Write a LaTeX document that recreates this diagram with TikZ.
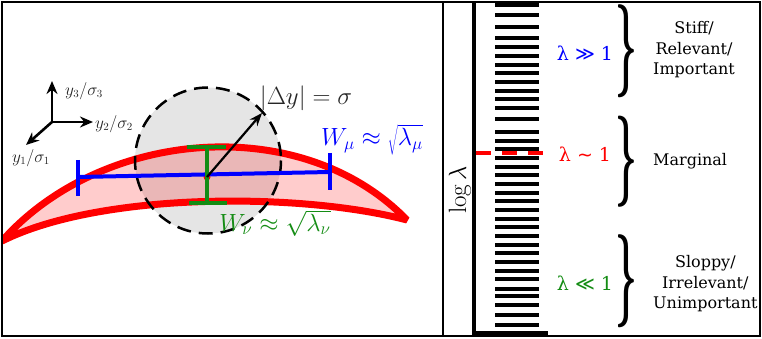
\documentclass[tikz,border=0pt]{standalone}
\usepackage{fontspec}
\newfontfamily\dvserif{DejaVu Serif}
\newfontfamily\dvsans{DejaVu Sans}
\usetikzlibrary{arrows.meta}
\definecolor{mygreen}{RGB}{20,140,20}
\definecolor{myblue}{RGB}{0,0,255}
\definecolor{myred}{RGB}{255,0,0}
\begin{document}
\begin{tikzpicture}[x=1pt,y=-1pt,
  frame/.style={line width=2.5pt},
  barline/.style={line width=4pt},
  band/.style={draw=myred,line width=7pt,fill=myred,fill opacity=0.2,line join=bevel},
  axisarrow/.style={line width=2.6pt,-{Stealth[length=13pt,width=11pt]}},
  mathlbl/.style={font=\fontsize{23.5}{28}\selectfont,inner sep=0pt},
  smalllbl/.style={font=\fontsize{16}{19}\selectfont,inner sep=0pt,text=black!85},
  lamlbl/.style={font=\dvserif\fontsize{19}{22}\selectfont,inner sep=0pt},
  bracetxt/.style={font=\dvserif\fontsize{16}{20.5}\selectfont,align=center,inner sep=0pt,anchor=west},
  bracenode/.style={font=\bfseries\fontsize{38}{40}\selectfont,inner sep=0pt},
  bluebar/.style={draw=myblue,line width=4pt},
  greenbar/.style={draw=mygreen,line width=4pt},
]
\useasboundingbox (0,0) rectangle (762,339);

% ---------- left panel ----------
\coordinate (cc) at (208,160.5);
\fill[black!10] (cc) circle (73);

\begin{scope}
\clip (2,2) rectangle (443,336);
\coordinate (bl) at (2,241);
\coordinate (br) at (407,220);
\draw[band] (bl) .. controls (100,130) and (300,110) .. (br)
            .. controls (300,192) and (100,192) .. (bl) -- cycle;
\end{scope}

\draw[line width=2.5pt,dash pattern=on 14pt off 8pt] (cc) circle (73);

% centre point
\coordinate (c0) at (207,177);
\fill[myred] (c0) circle (3.5);

% blue width bar
\coordinate (b1) at (78,177);
\coordinate (b2) at (330,172);
\coordinate (b1t) at (78,160);
\coordinate (b1b) at (78,196);
\coordinate (b2t) at (330,153);
\coordinate (b2b) at (330,190);
\draw[bluebar] (b1) -- (b2);
\draw[bluebar] (b1t) -- (b1b);
\draw[bluebar] (b2t) -- (b2b);

% green width bar
\coordinate (g1) at (207,147);
\coordinate (g2) at (207,203);
\coordinate (g1l) at (187,147);
\coordinate (g1r) at (226,147);
\coordinate (g2l) at (189,203);
\coordinate (g2r) at (227,203);
\draw[greenbar] (g1) -- (g2);
\draw[greenbar] (g1l) -- (g1r);
\draw[greenbar] (g2l) -- (g2r);

% radius arrow
\coordinate (rt) at (262,113);
\draw[line width=2.2pt,-{Stealth[length=13pt,width=10pt]}] (c0) -- (rt);

% axes icon
\coordinate (o) at (52,122);
\coordinate (ax3) at (52,81);
\coordinate (ax2) at (93,122);
\coordinate (ax1) at (26,145);
\draw[axisarrow] (o) -- (ax3);
\draw[axisarrow] (o) -- (ax2);
\draw[axisarrow] (o) -- (ax1);
\node[smalllbl] (l3) at (84,91) {$y_3/\sigma_3$};
\node[smalllbl] (l2) at (114,124) {$y_2/\sigma_2$};
\node[smalllbl] (l1) at (31,158) {$y_1/\sigma_1$};

% labels
\node[mathlbl,text=black!85] (dy) at (306,98) {$|\Delta y| = \sigma$};
\node[mathlbl,text=myblue] (wmu) at (372,140) {$W_\mu \approx \sqrt{\lambda_\mu}$};
\node[mathlbl,text=mygreen] (wnu) at (275,223) {$W_\nu \approx \sqrt{\lambda_\nu}$};

% ---------- right panel ----------
\coordinate (d1) at (443,2);
\coordinate (d2) at (443,336);
\draw[frame] (d1) -- (d2);
\coordinate (lt) at (474,2);
\coordinate (lc) at (474,333);
\coordinate (lr) at (548,333);
\draw[line width=4pt] (lt) -- (lc) -- (lr);

\foreach \y in {5,14.7,27,38,47,55.7,64.7,73,81.7,90.7,99,108,119.5,132,140.7,149.3,158,166.7,175.3,184,192.7,201.3,210,218.7,227.3,236,244.7,253.3,262,270.7,279.3,288.7,296,304.7,315,325.3}
  \draw[barline] (495,\y) -- (539,\y);

\coordinate (rd1) at (476,153);
\coordinate (rd2) at (553,153);
\draw[myred,line width=3.5pt,dash pattern=on 15pt off 11pt] (rd1) -- (rd2);

\node[rotate=90,font=\fontsize{25}{30}\selectfont,inner sep=0pt] (loglam) at (460,190) {$\log\lambda$};

\node[lamlbl,text=myblue] (lhi) at (585,53) {λ {\dvsans ≫} 1};
\node[lamlbl,text=myred] (lmid) at (585,154) {λ {\dvsans ∼} 1};
\node[lamlbl,text=mygreen] (llo) at (585,283) {λ {\dvsans ≪} 1};

\node[bracenode] (br1) at (626,51) {\scalebox{1}[2.45]{\}}};
\node[bracenode] (br2) at (626,162) {\scalebox{1}[2.4]{\}}};
\node[bracenode] (br3) at (626,281) {\scalebox{1}[2.45]{\}}};

\node[bracetxt] (stiff) at (653,50) {Stiff/\\Relevant/\\Important};
\node[bracetxt] (marg) at (653,161) {Marginal};
\node[bracetxt] (sloppy) at (653,284) {Sloppy/\\Irrelevant/\\Unimportant};

% outer frame
\draw[frame] (2,2) rectangle (760,336);
\end{tikzpicture}
\end{document}
